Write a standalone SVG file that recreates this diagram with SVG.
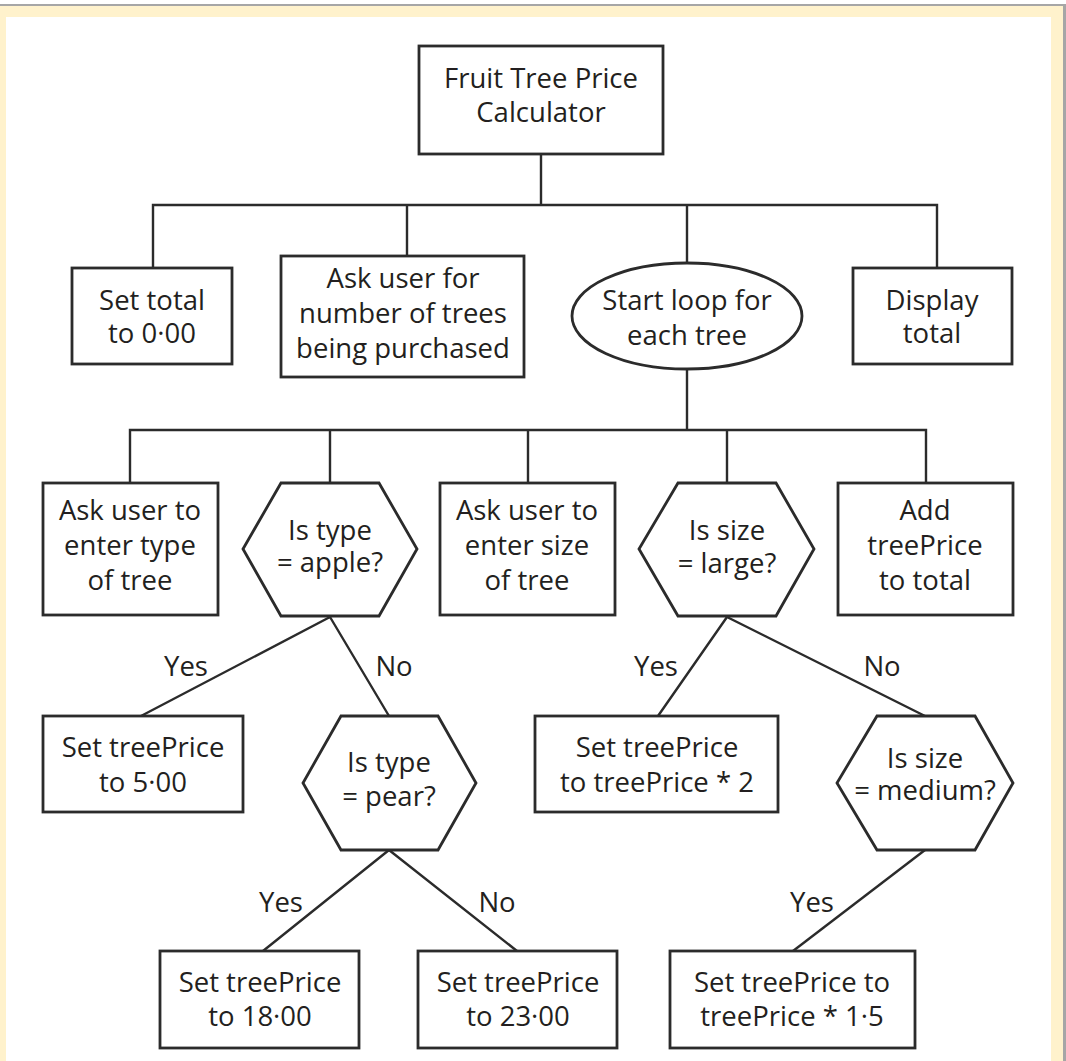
<svg xmlns="http://www.w3.org/2000/svg" width="1066" height="1061" viewBox="0 0 1066 1061">
  <style>
    .shape { fill: #ffffff; stroke: #2b2b2b; stroke-width: 2.8; }
    .wire { fill: none; stroke: #2b2b2b; stroke-width: 2.4; }
    text { font-family: "Open Sans", "Liberation Sans", sans-serif; font-size: 27.5px; fill: #231f20; text-anchor: middle; }
  </style>

  <!-- page frame -->
  <rect x="0" y="0" width="1066" height="1061" fill="#ffffff"/>
  <rect x="0" y="5" width="1066" height="12" fill="#fff2cc"/>
  <rect x="0" y="5" width="6" height="1056" fill="#fff2cc"/>
  <rect x="1051" y="5" width="12" height="1056" fill="#fff2cc"/>
  <rect x="0" y="4" width="1066" height="2" fill="#a6a6a6"/>
  <rect x="1063" y="4" width="3" height="1057" fill="#a6a6a6"/>

  <!-- connectors -->
  <g id="connectors" class="wire">
    <path d="M541 154 V205 M153 268 V205 H937 V268 M407 205 V256 M687 205 V263"/>
    <path d="M687 369 V430 M130 483 V430 H926 V483 M330 430 V483 M528 430 V483 M727 430 V483"/>
    <path d="M330 617 L141 716 M330 617 L389 716"/>
    <path d="M389 850 L263 951 M389 850 L517 951"/>
    <path d="M727 617 L658 716 M727 617 L925 716"/>
    <path d="M925 850 L793 951"/>
  </g>

  <!-- branch labels -->
  <g id="labels">
    <text x="186" y="676">Yes</text>
    <text x="394" y="676">No</text>
    <text x="656" y="676">Yes</text>
    <text x="882" y="676">No</text>
    <text x="281" y="912">Yes</text>
    <text x="497" y="912">No</text>
    <text x="812" y="912">Yes</text>
  </g>

  <g id="calculator">
    <rect class="shape" x="419" y="46" width="244" height="108"/>
    <text x="541" y="88">Fruit Tree Price</text>
    <text x="541" y="122">Calculator</text>
  </g>

  <g id="set-total">
    <rect class="shape" x="72" y="268" width="160" height="96"/>
    <text x="152" y="310">Set total</text>
    <text x="152" y="343">to 0·00</text>
  </g>

  <g id="ask-number">
    <rect class="shape" x="281" y="256" width="243" height="121"/>
    <text x="403" y="288">Ask user for</text>
    <text x="403" y="323">number of trees</text>
    <text x="403" y="358">being purchased</text>
  </g>

  <g id="loop">
    <ellipse class="shape" cx="687" cy="316" rx="115" ry="53"/>
    <text x="687" y="310">Start loop for</text>
    <text x="687" y="345">each tree</text>
  </g>

  <g id="display-total">
    <rect class="shape" x="853" y="268" width="159" height="96"/>
    <text x="932" y="310">Display</text>
    <text x="932" y="343">total</text>
  </g>

  <g id="ask-type">
    <rect class="shape" x="43" y="483" width="175" height="132"/>
    <text x="130" y="520">Ask user to</text>
    <text x="130" y="555">enter type</text>
    <text x="130" y="590">of tree</text>
  </g>

  <g id="is-apple">
    <polygon class="shape" points="281,483 379,483 417,549 379,616 281,616 243,549"/>
    <text x="330" y="540">Is type</text>
    <text x="330" y="572">= apple?</text>
  </g>

  <g id="ask-size">
    <rect class="shape" x="440" y="483" width="175" height="132"/>
    <text x="527" y="520">Ask user to</text>
    <text x="527" y="555">enter size</text>
    <text x="527" y="590">of tree</text>
  </g>

  <g id="is-large">
    <polygon class="shape" points="678,483 776,483 814,549 776,616 678,616 639,549"/>
    <text x="727" y="540">Is size</text>
    <text x="727" y="573">= large?</text>
  </g>

  <g id="add-price">
    <rect class="shape" x="838" y="483" width="175" height="132"/>
    <text x="925" y="520">Add</text>
    <text x="925" y="555">treePrice</text>
    <text x="925" y="590">to total</text>
  </g>

  <g id="price-apple">
    <rect class="shape" x="43" y="716" width="200" height="96"/>
    <text x="143" y="757">Set treePrice</text>
    <text x="143" y="792">to 5·00</text>
  </g>

  <g id="is-pear">
    <polygon class="shape" points="341,716 438,716 476,783 438,850 341,850 303,783"/>
    <text x="389" y="772">Is type</text>
    <text x="389" y="806">= pear?</text>
  </g>

  <g id="price-large">
    <rect class="shape" x="535" y="716" width="243" height="96"/>
    <text x="657" y="757">Set treePrice</text>
    <text x="657" y="792">to treePrice * 2</text>
  </g>

  <g id="is-medium">
    <polygon class="shape" points="877,716 975,716 1013,783 975,850 877,850 837,783"/>
    <text x="925" y="768">Is size</text>
    <text x="925" y="800">= medium?</text>
  </g>

  <g id="price-pear">
    <rect class="shape" x="160" y="951" width="199" height="97"/>
    <text x="260" y="992">Set treePrice</text>
    <text x="260" y="1026">to 18·00</text>
  </g>

  <g id="price-other">
    <rect class="shape" x="418" y="951" width="199" height="97"/>
    <text x="518" y="992">Set treePrice</text>
    <text x="518" y="1026">to 23·00</text>
  </g>

  <g id="price-medium">
    <rect class="shape" x="670" y="951" width="245" height="97"/>
    <text x="792" y="992">Set treePrice to</text>
    <text x="792" y="1026">treePrice * 1·5</text>
  </g>
</svg>
